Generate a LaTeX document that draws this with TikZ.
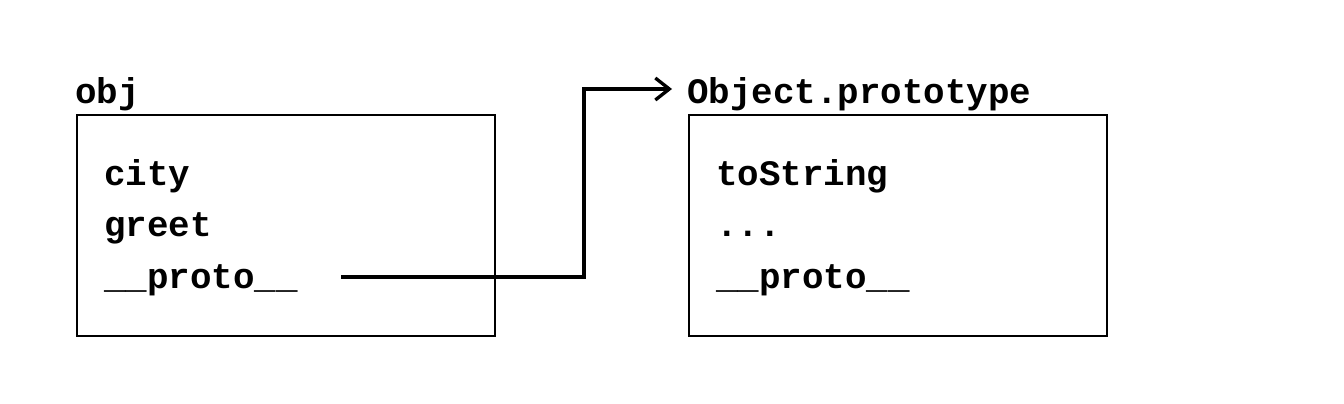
\documentclass[tikz,border=0pt]{standalone}
\usepackage{fontspec}
\setmonofont{Liberation Mono}
\usetikzlibrary{positioning,arrows.meta}

\tikzset{
  objbox/.style={draw, line width=1.1pt, minimum width=8.36cm, minimum height=4.42cm, inner sep=0pt},
  field/.style={font=\fontsize{20.4}{24}\selectfont\ttfamily\bfseries, anchor=base west, inner sep=0pt},
  link/.style={line width=1.9pt, -{Straight Barb[length=0.28cm, width=0.44cm, line width=1.9pt]}},
}

\begin{document}
\begin{tikzpicture}[x=0.02cm, y=-0.02cm]
    \useasboundingbox (0,0) rectangle (1344,404);
    % the object and its prototype
    \node[objbox] (obj) at (286,225.5) {};
    \node[objbox] (objproto) at (898,225.5) {};
    \node[field] (objname) at (75,104) {obj};
    \node[field] (protoname) at (687,104) {Object.prototype};
    % fields of obj
    \node[field] (city) at (104,186) {city};
    \node[field] (greet) at (104,237) {greet};
    \node[field] (objlink) at (104,289) {\_\_proto\_\_};
    % fields of Object.prototype
    \node[field] (tostring) at (716,186) {toString};
    \node[field] (dots) at (716,237) {...};
    \node[field] (protolink) at (716,289) {\_\_proto\_\_};
    % __proto__ points to Object.prototype
    \coordinate (start) at (341,277);
    \coordinate (bend) at (584,89);
    \coordinate (tip) at (672,89);
    \draw[link] (start) -| (bend) -- (tip);
\end{tikzpicture}
\end{document}
